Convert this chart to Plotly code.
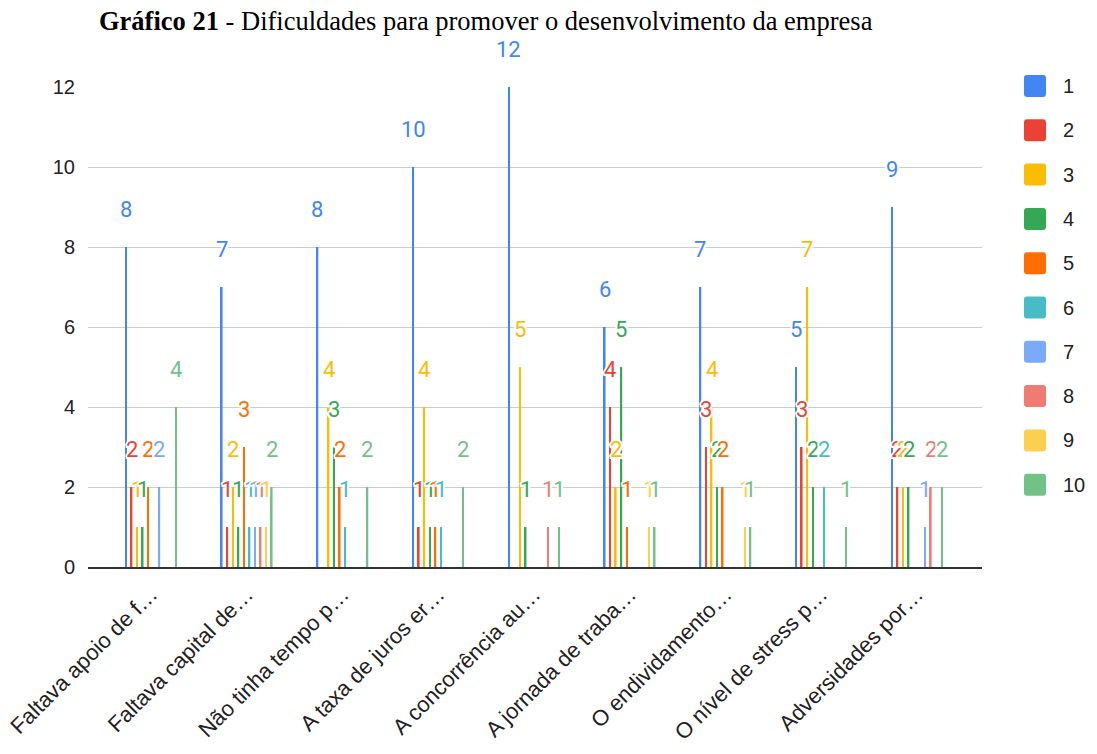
import plotly.graph_objects as go

# Categories (truncated as displayed on the axis)
categories = [
    "Faltava apoio de f…",
    "Faltava capital de…",
    "Não tinha tempo p…",
    "A taxa de juros er…",
    "A concorrência au…",
    "A jornada de traba…",
    "O endividamento…",
    "O nível de stress p…",
    "Adversidades por…",
]

series_names = ["1", "2", "3", "4", "5", "6", "7", "8", "9", "10"]

# Counts per series (None = no answer for that category)
s1 = [8, 7, 8, 10, 12, 6, 7, 5, 9]
s2 = [2, 1, None, 1, None, 4, 3, 3, 2]
s3 = [1, 2, 4, 4, 5, 2, 4, 7, 2]
s4 = [1, 1, 3, 1, 1, 5, 2, 2, 2]
s5 = [2, 3, 2, 1, None, 1, 2, None, None]
s6 = [None, 1, 1, 1, None, None, None, 2, None]
s7 = [2, 1, None, None, None, None, None, None, 1]
s8 = [None, 1, None, None, 1, None, None, None, 2]
s9 = [None, 1, None, None, None, 1, 1, None, None]
s10 = [4, 2, 2, 2, 1, 1, 1, 1, 2]
series_values = [s1, s2, s3, s4, s5, s6, s7, s8, s9, s10]

colors = ["#4285F4", "#EA4335", "#FBBC04", "#34A853", "#FF6D01",
          "#46BDC6", "#7BAAF7", "#F07B72", "#FCD04F", "#71C287"]

y_ticks = [0, 2, 4, 6, 8, 10, 12]

FONT = "Liberation Sans, Arial, sans-serif"
LABEL_FONT = "Roboto, Arial, sans-serif"
BARGAP = 0.42
GROUP_W = 1 - BARGAP
N = len(series_values)
SLOT = GROUP_W / N

xs = list(range(len(categories)))

fig = go.Figure()
for name, vals, col in zip(series_names, series_values, colors):
    fig.add_trace(go.Bar(
        x=xs, y=vals, name=name, marker_color=col,
        marker_line_width=0, showlegend=False,
    ))

halo = ("#fff 2px 0px 0px, #fff -2px 0px 0px, #fff 0px 2px 0px, #fff 0px -2px 0px, "
        "#fff 1.5px 1.5px 0px, #fff -1.5px -1.5px 0px, #fff 1.5px -1.5px 0px, #fff -1.5px 1.5px 0px")

annotations = []
for i, (vals, col) in enumerate(zip(series_values, colors)):
    off = -GROUP_W / 2 + (i + 0.5) * SLOT
    for k, v in enumerate(vals):
        if v is None:
            continue
        annotations.append(dict(
            x=k + off, y=v, xref="x", yref="y", text=str(v), showarrow=False,
            yshift=38, xanchor="center", yanchor="middle",
            font=dict(family=LABEL_FONT, size=22, color=col, shadow=halo),
        ))

# Title
annotations.append(dict(
    xref="paper", yref="paper", x=(486 - 88) / 894, y=(567 - 21) / 480,
    text="<b>Gráfico 21</b> - Dificuldades para promover o desenvolvimento da empresa",
    showarrow=False, xanchor="center", yanchor="middle",
    font=dict(family="Liberation Serif, Times New Roman, serif", size=26.5, color="#000"),
))

# Legend drawn as rounded swatches with labels
shapes = []
for i, (name, col) in enumerate(zip(series_names, colors)):
    cy = 86 + i * 44.3
    yp = (567 - cy) / 480
    xp = (1035 - 88) / 894
    r = 3
    w = 11
    path = (f"M {-w + r},{-w} L {w - r},{-w} Q {w},{-w} {w},{-w + r} "
            f"L {w},{w - r} Q {w},{w} {w - r},{w} L {-w + r},{w} Q {-w},{w} {-w},{w - r} "
            f"L {-w},{-w + r} Q {-w},{-w} {-w + r},{-w} Z")
    shapes.append(dict(
        type="path", xref="paper", yref="paper", xsizemode="pixel", ysizemode="pixel",
        xanchor=xp, yanchor=yp, path=path, fillcolor=col, line=dict(width=0),
    ))
    annotations.append(dict(
        xref="paper", yref="paper", x=(1061 - 88) / 894, y=yp, text=name,
        showarrow=False, xanchor="left", yanchor="middle",
        font=dict(family=FONT, size=20, color="#222"),
    ))

fig.update_layout(
    width=1097, height=754,
    margin=dict(l=88, r=115, t=87, b=187, autoexpand=False),
    paper_bgcolor="white", plot_bgcolor="white",
    barmode="group", bargap=BARGAP, bargroupgap=0.7,
    showlegend=False,
    annotations=annotations, shapes=shapes,
    font=dict(family=FONT, color="#222"),
)
fig.update_xaxes(
    tickmode="array", tickvals=xs, ticktext=categories, tickangle=-45,
    range=[-0.658, 8.68], showgrid=False, zeroline=False,
    showline=True, linecolor="#333", linewidth=1.5, ticks="",
    ticklabelstandoff=4,
    tickfont=dict(family=FONT, size=22, color="#222"),
)
fig.update_yaxes(
    range=[0, 12], tickmode="array", tickvals=y_ticks,
    showgrid=True, gridcolor="#cccccc", gridwidth=1, zeroline=False,
    ticks="", ticklabelstandoff=12,
    tickfont=dict(family=FONT, size=20, color="#222"),
)

fig.write_html("out.html")
